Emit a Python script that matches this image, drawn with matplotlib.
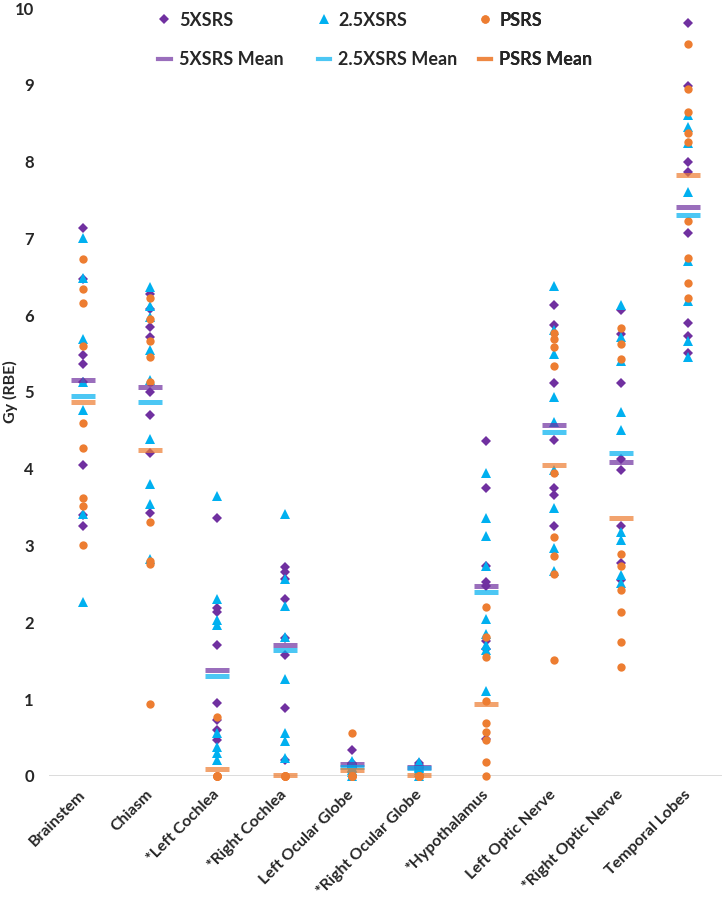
"""
Dose per organ at risk: 5XSRS vs 2.5XSRS vs PSRS, points per patient plus means.
"""

import matplotlib
matplotlib.use('Agg')
import matplotlib.pyplot as plt
from matplotlib.lines import Line2D
import numpy as np

plt.rcParams['font.family'] = ['Lato', 'DejaVu Sans']

categories = ['Brainstem', 'Chiasm', '*Left Cochlea', '*Right Cochlea',
              'Left Ocular Globe', '*Right Ocular Globe', '*Hypothalamus',
              'Left Optic Nerve', '*Right Optic Nerve', 'Temporal Lobes']

# per-patient doses, Gy (RBE)
srs5 = [
    [7.14, 6.47, 5.48, 5.36, 5.13, 4.05, 3.40, 3.25],
    [6.28, 6.08, 5.85, 5.71, 5.00, 4.70, 4.20, 3.42],
    [3.36, 2.18, 2.14, 1.71, 0.95, 0.73, 0.60, 0.47],
    [2.72, 2.66, 2.57, 2.30, 1.79, 1.58, 0.88, 0.20],
    [0.33, 0.17, 0.15, 0.14, 0.12, 0.10, 0.12, 0.15],
    [0.17, 0.14, 0.12, 0.10, 0.10, 0.08, 0.12, 0.11],
    [4.36, 3.75, 2.73, 2.52, 2.47, 1.76, 1.65, 0.48],
    [6.13, 5.87, 5.12, 4.38, 3.75, 3.66, 3.26],
    [6.07, 5.76, 5.12, 4.13, 3.98, 3.25, 2.77, 2.55],
    [9.81, 8.98, 7.99, 7.86, 7.07, 5.90, 5.73, 5.51],
]
srs25 = [
    [7.00, 6.48, 5.69, 5.13, 4.77, 3.41, 2.26],
    [6.37, 6.12, 5.97, 5.55, 5.16, 4.39, 3.80, 3.54, 2.83],
    [3.65, 2.30, 2.03, 1.97, 0.56, 0.38, 0.30, 0.21],
    [3.41, 2.57, 2.21, 1.81, 1.26, 0.56, 0.45, 0.23],
    [0.19, 0.15, 0.12, 0.10, 0.08, 0.05, 0.00],
    [0.18, 0.12, 0.10, 0.08, 0.05, 0.00],
    [3.94, 3.36, 3.12, 2.73, 2.04, 1.85, 1.71, 1.64, 1.11],
    [6.38, 5.81, 5.50, 4.93, 4.61, 3.98, 3.49, 2.97, 2.67],
    [6.13, 5.71, 5.40, 4.74, 4.51, 3.18, 3.07, 2.62, 2.51],
    [8.61, 8.45, 8.24, 7.61, 6.71, 6.18, 5.67, 5.46],
]
psrs = [
    [6.73, 6.34, 6.16, 5.60, 4.60, 4.27, 3.62, 3.51, 3.00],
    [6.22, 5.95, 5.66, 5.45, 5.13, 3.30, 2.80, 2.76, 0.93],
    [0.77, 0.0, 0.0, 0.0, 0.0, 0.0, 0.0, 0.0],
    [0.0, 0.0, 0.0, 0.0, 0.0, 0.0, 0.0, 0.0],
    [0.56, 0.0, 0.0, 0.0, 0.0, 0.0, 0.0, 0.0],
    [0.0, 0.0, 0.0, 0.0, 0.0, 0.0, 0.0, 0.0],
    [2.20, 1.81, 1.55, 0.98, 0.69, 0.57, 0.46, 0.18, 0.00],
    [5.77, 5.69, 5.59, 5.34, 3.95, 3.11, 2.86, 2.63, 1.51],
    [5.83, 5.63, 5.43, 2.89, 2.73, 2.42, 2.13, 1.74, 1.42],
    [9.53, 8.95, 8.65, 8.37, 8.26, 7.23, 6.74, 6.42, 6.23],
]

srs5_mean = [5.15, 5.07, 1.38, 1.70, 0.16, 0.12, 2.47, 4.57, 4.09, 7.41]
srs25_mean = [4.95, 4.87, 1.30, 1.64, 0.11, 0.10, 2.39, 4.48, 4.21, 7.31]
psrs_mean = [4.87, 4.25, 0.09, 0.01, 0.07, 0.01, 0.94, 4.05, 3.36, 7.82]

PURPLE = '#7030A0'
BLUE = '#00B0F0'
ORANGE = '#ED7D31'
TXT = '#262626'

series = [
    ('5XSRS', srs5, srs5_mean, PURPLE, 'D', 5.0),
    ('2.5XSRS', srs25, srs25_mean, BLUE, '^', 6.8),
    ('PSRS', psrs, psrs_mean, ORANGE, 'o', 6.0),
]

fig = plt.figure(figsize=(7.22, 9.0), dpi=100)
ax = fig.add_axes([0.068, 0.138, 0.932, 0.853])

for label, vals, means, color, marker, ms in series:
    xs = np.concatenate([np.full(len(v), i) for i, v in enumerate(vals)])
    ys = np.concatenate([np.asarray(v, dtype=float) for v in vals])
    ax.plot(xs, ys, linestyle='none', marker=marker, ms=ms, color=color,
            markeredgewidth=0, clip_on=False, zorder=3)

for label, vals, means, color, marker, ms in series:
    ax.plot(np.arange(len(means)), means, linestyle='none', marker='_',
            ms=17.5, mew=3.6, color=color, alpha=0.7, clip_on=False, zorder=4)

ax.axhline(0, color='#D9D9D9', lw=1.3, zorder=1)
ax.set_xlim(-0.5, len(categories) - 0.5)
ax.set_ylim(0, 10)
ax.set_yticks(range(0, 11))
ax.set_xticks(range(len(categories)))
ax.set_xticklabels(categories, rotation=45, ha='right', va='center',
                   rotation_mode='anchor', fontsize=11.5, fontweight='bold',
                   color=TXT)
for t in ax.get_yticklabels():
    t.set_fontsize(12)
    t.set_fontweight('bold')
    t.set_color(TXT)
ax.tick_params(axis='both', length=0)
ax.tick_params(axis='y', pad=11)
ax.tick_params(axis='x', pad=12)
for s in ax.spines.values():
    s.set_visible(False)
ax.set_ylabel('Gy (RBE)', fontsize=11.5, fontweight='bold', color=TXT)
ax.yaxis.set_label_coords(-0.046, 0.5)

# legend: one column per series, marker on top row, mean underneath
legend_x = [0.209, 0.430, 0.653]
for (label, vals, means, color, marker, ms), lx in zip(series, legend_x):
    handles = [
        Line2D([], [], linestyle='none', marker=marker, ms=ms, color=color,
               markeredgewidth=0),
        Line2D([], [], color=color, lw=3, alpha=0.7),
    ]
    leg = ax.legend(handles, [label, label + ' Mean'], loc='upper left',
                    bbox_to_anchor=(lx, 0.995), bbox_transform=fig.transFigure,
                    frameon=False, handlelength=0.7, handletextpad=0.45,
                    labelspacing=1.25, borderaxespad=0,
                    prop={'size': 13, 'weight': 'bold'})
    for t in leg.get_texts():
        t.set_color(TXT)
    ax.add_artist(leg)

fig.savefig('out.png', dpi=100)
